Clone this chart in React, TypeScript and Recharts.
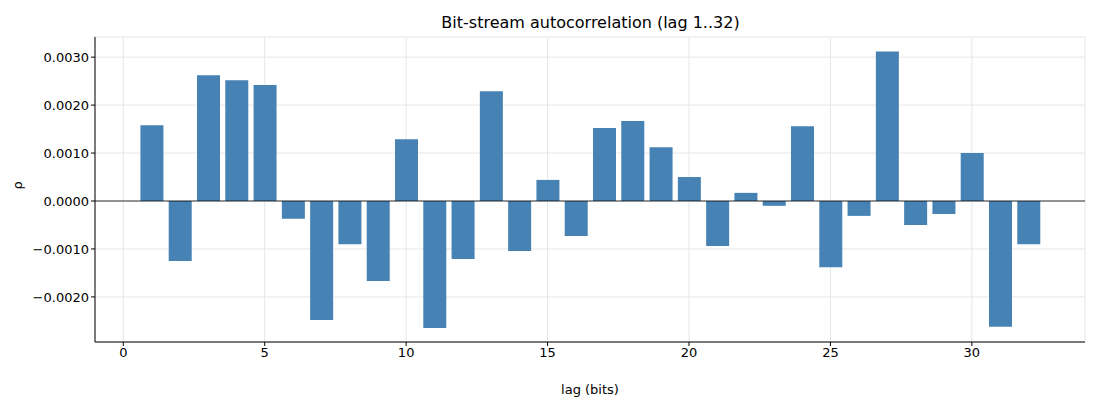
import React from "react";
import { BarChart, Bar, XAxis, YAxis, CartesianGrid, ReferenceLine } from "recharts";

const lags = Array.from({ length: 32 }, (_, i) => i + 1);
const rho = [1.58, -1.25, 2.62, 2.52, 2.42, -0.37, -2.48, -0.9, -1.67, 1.29, -2.65, -1.21, 2.29, -1.04, 0.44, -0.73, 1.52, 1.67, 1.12, 0.5, -0.94, 0.17, -0.1, 1.56, -1.38, -0.31, 3.12, -0.5, -0.27, 1.0, -2.62, -0.9];
const xTicks = [0, 5, 10, 15, 20, 25, 30];
const yTicks = [-0.002, -0.001, 0, 0.001, 0.002, 0.003];

const data = lags.map((lag, i) => ({ lag, rho: rho[i] / 1000 }));
const fmt = (v: number) => v.toFixed(4).replace("-", "\u2212");
const font = "DejaVu Sans, sans-serif";

export default function App() {
  return (
    <div style={{ position: "relative", width: 1092, height: 392, fontFamily: font }}>
      <div style={{ position: "absolute", top: 5, left: 0, width: 1165, textAlign: "center", fontSize: 16 }}>
        Bit-stream autocorrelation (lag 1..32)
      </div>
      <BarChart width={1092} height={392} data={data} margin={{ top: 29, right: 15, left: 27, bottom: 28 }}>
        <CartesianGrid stroke="#e6e6e6" />
        <XAxis dataKey="lag" type="number" domain={[-1, 34]} ticks={xTicks} stroke="#000" tick={{ fill: "#000", fontSize: 13, fontFamily: font }} tickSize={4} height={30}
          label={{ value: "lag (bits)", position: "insideBottom", offset: -22, fill: "#000", fontSize: 13, fontFamily: font }} />
        <YAxis type="number" domain={[-0.00294, 0.00342]} ticks={yTicks} tickFormatter={fmt} stroke="#000" tick={{ fill: "#000", fontSize: 13, fontFamily: font }} tickSize={4} width={60}
          label={{ value: "ρ", angle: -90, position: "insideLeft", offset: -18, fill: "#000", fontSize: 13, fontFamily: font }} />
        <ReferenceLine y={0} stroke="#000" strokeWidth={0.8} />
        <Bar dataKey="rho" fill="#4682b4" barSize={23} isAnimationActive={false} />
      </BarChart>
    </div>
  );
}
